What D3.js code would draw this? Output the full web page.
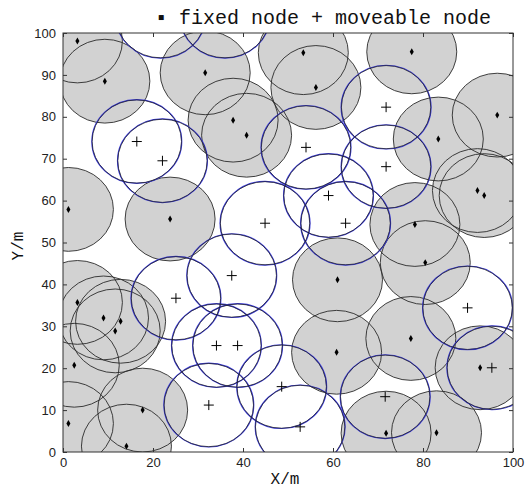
<!DOCTYPE html>
<html>
<head>
<meta charset="utf-8">
<script src="https://cdn.jsdelivr.net/npm/d3@7"></script>
<style>
  body { margin: 0; background: #fff; }
  svg { display: block; }
</style>
</head>
<body>
<script>
// fixed nodes (anchors) and moveable nodes, in metres
const fixedX = [3.2, 9.3, 31.6, 37.8, 40.8, 53.4, 56.2, 77.5, 83.4, 96.5, 92.1, 93.6, 78.2, 1.2, 23.8, 80.5, 61.0, 3.2, 9.0, 12.8, 11.6, 2.5, 1.2, 17.7, 14.1, 77.3, 60.8, 92.7, 71.8, 83.0];
const fixedY = [98.1, 88.5, 90.5, 79.2, 75.6, 95.3, 87.0, 95.5, 74.7, 80.4, 62.4, 61.2, 54.3, 57.9, 55.6, 45.2, 41.1, 35.7, 32.0, 31.2, 28.9, 20.7, 6.8, 10.0, 1.4, 27.1, 23.8, 20.1, 4.5, 4.6];
const moveX = [16.4, 22.1, 54.0, 71.8, 71.8, 59.0, 62.8, 44.9, 37.5, 25.1, 34.1, 38.8, 32.4, 48.6, 52.7, 71.6, 89.9, 95.3, 21.7, 36.0];
const moveY = [74.1, 69.5, 72.7, 82.3, 68.1, 61.2, 54.6, 54.6, 42.1, 36.7, 25.4, 25.4, 11.2, 15.6, 6.0, 13.2, 34.4, 20.1, 104.0, 104.0];
const range = 10;
const xTicks = [0, 20, 40, 60, 80, 100];
const yTicks = [0, 10, 20, 30, 40, 50, 60, 70, 80, 90, 100];

const w = 527, h = 488;
const pLeft = 63, pRight = 513, pTop = 33, pBottom = 452;

const fixed = fixedX.map((x, i) => ({ x: x, y: fixedY[i] }));
const moveable = moveX.map((x, i) => ({ x: x, y: moveY[i] }));

const xScale = d3.scaleLinear().domain([0, 100]).range([pLeft, pRight]);
const yScale = d3.scaleLinear().domain([0, 100]).range([pBottom, pTop]);
const rx = xScale(range) - xScale(0);
const ry = yScale(0) - yScale(range);

const svg = d3.select('body').append('svg').attr('width', w).attr('height', h);

svg.append('clipPath').attr('id', 'plot-clip')
   .append('rect').attr('x', pLeft).attr('y', pTop).attr('width', pRight - pLeft).attr('height', pBottom - pTop);

const plot = svg.append('g').attr('clip-path', 'url(#plot-clip)');

// gray coverage of fixed nodes
plot.append('g').selectAll('ellipse').data(fixed).enter().append('ellipse')
    .attr('cx', d => xScale(d.x)).attr('cy', d => yScale(d.y))
    .attr('rx', rx).attr('ry', ry)
    .style('fill', 'rgb(210,210,210)');

plot.append('g').selectAll('ellipse').data(fixed).enter().append('ellipse')
    .attr('cx', d => xScale(d.x)).attr('cy', d => yScale(d.y))
    .attr('rx', rx).attr('ry', ry)
    .style('fill', 'none').style('stroke', '#2a2a2a').style('stroke-width', 0.9);

// moveable nodes: blue range circle, mostly covered by a dark one
plot.append('g').selectAll('ellipse').data(moveable).enter().append('ellipse')
    .attr('cx', d => xScale(d.x)).attr('cy', d => yScale(d.y))
    .attr('rx', rx).attr('ry', ry)
    .style('fill', 'none').style('stroke', '#3a3ae0').style('stroke-width', 1.1);

plot.append('g').selectAll('ellipse').data(moveable).enter().append('ellipse')
    .attr('cx', d => xScale(d.x)).attr('cy', d => yScale(d.y))
    .attr('rx', rx - 0.3).attr('ry', ry - 0.3)
    .style('fill', 'none').style('stroke', '#202020').style('stroke-width', 0.9).style('opacity', 0.85);

// markers
plot.append('g').selectAll('path').data(fixed).enter().append('path')
    .attr('d', d3.symbol(d3.symbolDiamond, 14))
    .attr('transform', d => 'translate(' + xScale(d.x) + ',' + yScale(d.y) + ')')
    .style('fill', '#000');

plot.append('g').selectAll('path').data(moveable).enter().append('path')
    .attr('d', 'M-5,0H5M0,-5V5')
    .attr('transform', d => 'translate(' + xScale(d.x) + ',' + yScale(d.y) + ')')
    .style('stroke', '#000').style('stroke-width', 1).style('fill', 'none');

// frame and inward ticks on all sides
svg.append('rect').attr('x', pLeft).attr('y', pTop).attr('width', pRight - pLeft).attr('height', pBottom - pTop)
   .style('fill', 'none').style('stroke', '#333').style('stroke-width', 1);

const axisFont = g => {
  g.select('.domain').remove();
  g.selectAll('line').style('stroke', '#333');
  g.selectAll('text').style('font-family', '"Liberation Sans", Arial, sans-serif').style('font-size', '13px').style('fill', '#222');
};

svg.append('g').attr('transform', 'translate(0,' + pBottom + ')')
   .call(d3.axisBottom(xScale).tickValues(xTicks).tickSizeInner(-4).tickSizeOuter(0).tickPadding(6)).call(axisFont);
svg.append('g').attr('transform', 'translate(0,' + pTop + ')')
   .call(d3.axisTop(xScale).tickValues(xTicks).tickSizeInner(-4).tickSizeOuter(0).tickFormat('')).call(axisFont);
svg.append('g').attr('transform', 'translate(' + pLeft + ',0)')
   .call(d3.axisLeft(yScale).tickValues(yTicks).tickSizeInner(-4).tickSizeOuter(0).tickPadding(7)).call(axisFont);
svg.append('g').attr('transform', 'translate(' + pRight + ',0)')
   .call(d3.axisRight(yScale).tickValues(yTicks).tickSizeInner(-4).tickSizeOuter(0).tickFormat('')).call(axisFont);

const mono = '"Liberation Mono", "Courier New", monospace';

svg.append('text').text('\u25AA fixed node + moveable node')
   .attr('x', 323).attr('y', 24).attr('text-anchor', 'middle')
   .style('font-family', mono).style('font-size', '20px').style('fill', '#111');

svg.append('text').text('X/m')
   .attr('x', 285).attr('y', 484).attr('text-anchor', 'middle')
   .style('font-family', mono).style('font-size', '16px').style('fill', '#111');

svg.append('text').text('Y/m')
   .attr('transform', 'translate(23,246)rotate(-90)').attr('text-anchor', 'middle')
   .style('font-family', mono).style('font-size', '16px').style('fill', '#111');
</script>
</body>
</html>
